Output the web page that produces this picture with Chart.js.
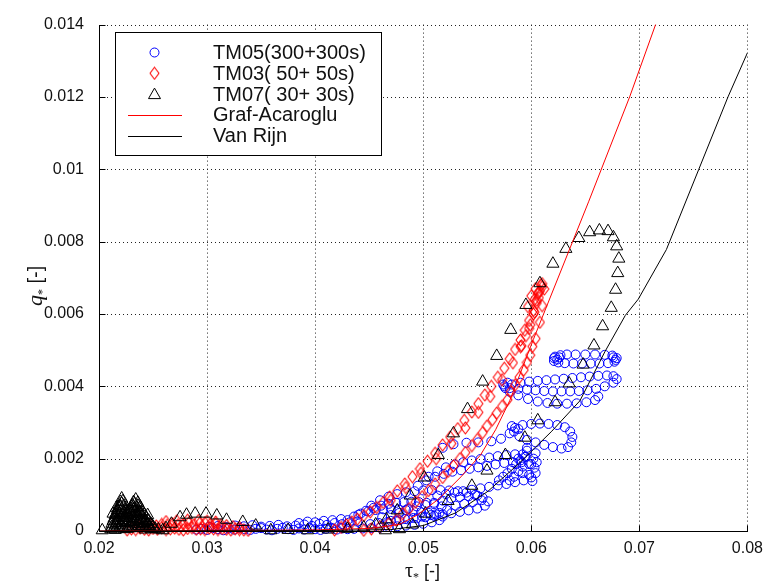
<!DOCTYPE html>
<html>
<head>
<meta charset="utf-8">
<script src="https://cdn.jsdelivr.net/npm/chart.js@4.4.0/dist/chart.umd.min.js"></script>
<style>
  html, body { margin: 0; padding: 0; background: #fff; }
  canvas { display: block; }
</style>
</head>
<body>
<canvas id="chart" width="771" height="585" style="width:771px;height:585px"></canvas>
<script>
// axis ticks
const tauTicks = [0.02, 0.03, 0.04, 0.05, 0.06, 0.07, 0.08];
const qTicks = [0, 0.002, 0.004, 0.006, 0.008, 0.01, 0.012, 0.014];

// TM05 (300+300s) - blue circles
const tm05Tau = [
  0.0290,0.0295,0.0300,0.0305,0.0310,0.0315,0.0320,0.0325,0.0330,0.0335,0.0340,0.0345,0.0350,0.0355,0.0360,0.0365,0.0370,0.0375,0.0380,0.0385,0.0390,0.0395,0.0400,0.0405,0.0410,0.0415,0.0420,0.0425,0.0430,
  0.0302,0.0310,0.0318,0.0326,0.0334,0.0342,0.0350,0.0358,0.0366,0.0374,0.0382,0.0390,0.0397,0.0404,0.0411,0.0418,0.0425,0.0432,0.0439,
  0.0385,0.0393,0.0400,0.0408,0.0416,0.0424,
  0.0430,0.0436,0.0442,0.0449,0.0456,0.0463,0.0470,0.0477,0.0484,0.0491,0.0498,0.0505,0.0512,0.0518,
  0.0515,0.0508,0.0500,0.0492,0.0484,0.0476,0.0468,0.0460,0.0452,0.0444,0.0436,
  0.0440,0.0447,0.0454,0.0461,0.0468,0.0475,0.0482,0.0489,0.0496,0.0503,0.0510,0.0517,
  0.0522,0.0515,0.0507,0.0499,0.0491,0.0483,0.0475,0.0467,0.0459,0.0451,
  0.0462,0.0470,0.0478,0.0486,0.0494,0.0502,0.0510,0.0518,0.0526,0.0534,0.0542,0.0550,0.0530,0.0538,0.0546,0.0554,
  0.0452,0.0460,0.0468,0.0476,0.0484,0.0492,0.0500,0.0508,0.0516,0.0524,0.0532,0.0540,0.0548,0.0555,0.0560,
  0.0557,0.0550,0.0542,0.0534,0.0526,0.0518,0.0510,0.0502,0.0494,0.0486,0.0478,0.0470,
  0.0495,0.0503,0.0511,0.0519,0.0527,0.0535,0.0543,0.0551,0.0559,0.0567,0.0575,0.0583,0.0591,0.0598,0.0603,
  0.0604,0.0600,0.0593,0.0585,0.0577,0.0569,0.0561,0.0553,0.0545,0.0537,0.0529,0.0521,0.0513,
  0.0505,0.0513,0.0521,0.0529,0.0537,0.0545,0.0553,0.0561,0.0569,0.0577,0.0585,0.0592,
  0.0602,0.0604,0.0598,0.0595,0.0600,0.0592,0.0596,0.0588,0.0601,0.0605,
  0.0578,0.0582,0.0586,0.0590,0.0594,0.0580,0.0584,0.0588,0.0592,0.0596,0.0574,0.0570,
  0.0518,0.0528,0.0540,0.0551,0.0563,0.0572,0.0580,0.0585,0.0592,0.0600,0.0608,0.0616,0.0624,0.0631,0.0636,0.0638,0.0637,0.0634,
  0.0628,0.0620,0.0612,0.0604,0.0596,0.0589,0.0584,0.0588,0.0582,
  0.0575,0.0582,0.0590,0.0598,0.0606,0.0614,0.0622,0.0630,0.0638,0.0646,0.0654,0.0662,0.0670,0.0676,0.0679,
  0.0676,0.0668,0.0660,0.0652,0.0644,0.0636,0.0628,0.0620,0.0612,0.0604,0.0596,0.0588,0.0580,
  0.0588,0.0597,0.0606,0.0615,0.0624,0.0633,0.0642,0.0651,0.0659,0.0662,0.0574,0.0576,0.0578,0.0580,
  0.0621,0.0627,0.0633,0.0641,0.0650,0.0659,0.0668,0.0675,0.0679,0.0677,0.0671,0.0663,0.0655,0.0647,0.0639,0.0631,0.0625,0.0621,0.0622,0.0624,0.0626,0.0678,0.0676
];
const tm05Q = [
  0.00004,0.00006,0.00003,0.00008,0.00005,0.00002,0.00007,0.00004,0.00009,0.00005,0.00003,0.00006,0.00008,0.00004,0.00002,0.00006,0.00009,0.00005,0.00003,0.00007,0.00004,0.00008,0.00005,0.00003,0.00006,0.00009,0.00004,0.00007,0.00005,
  0.00012,0.00014,0.00011,0.00015,0.00013,0.00016,0.00012,0.00014,0.00017,0.00013,0.00015,0.00018,0.00014,0.00020,0.00017,0.00022,0.00019,0.00024,0.00026,
  0.00022,0.00026,0.00024,0.00028,0.00030,0.00033,
  0.00030,0.00040,0.00048,0.00054,0.00058,0.00060,0.00061,0.00060,0.00058,0.00055,0.00052,0.00050,0.00046,0.00040,
  0.00030,0.00024,0.00020,0.00017,0.00015,0.00013,0.00011,0.00009,0.00008,0.00007,0.00006,
  0.00045,0.00056,0.00064,0.00070,0.00075,0.00078,0.00080,0.00081,0.00080,0.00078,0.00074,0.00068,
  0.00058,0.00050,0.00044,0.00040,0.00036,0.00033,0.00029,0.00025,0.00022,0.00019,
  0.00038,0.00044,0.00050,0.00062,0.00068,0.00072,0.00078,0.00084,0.00090,0.00094,0.00096,0.00098,0.00070,0.00075,0.00080,0.00085,
  0.00070,0.00085,0.00095,0.00102,0.00107,0.00110,0.00112,0.00113,0.00113,0.00112,0.00110,0.00106,0.00100,0.00092,0.00082,
  0.00070,0.00062,0.00057,0.00053,0.00049,0.00046,0.00042,0.00038,0.00035,0.00032,0.00030,0.00028,
  0.00125,0.00140,0.00150,0.00158,0.00164,0.00168,0.00172,0.00176,0.00180,0.00184,0.00188,0.00190,0.00190,0.00185,0.00175,
  0.00160,0.00148,0.00140,0.00135,0.00130,0.00126,0.00122,0.00118,0.00114,0.00110,0.00106,0.00102,0.00098,
  0.00150,0.00165,0.00176,0.00184,0.00190,0.00195,0.00199,0.00203,0.00207,0.00210,0.00212,0.00212,
  0.00200,0.00215,0.00155,0.00205,0.00185,0.00160,0.00222,0.00200,0.00138,0.00190,
  0.00160,0.00172,0.00185,0.00195,0.00205,0.00140,0.00150,0.00165,0.00178,0.00230,0.00150,0.00140,
  0.00230,0.00240,0.00244,0.00245,0.00248,0.00255,0.00270,0.00285,0.00293,0.00296,0.00297,0.00296,0.00293,0.00287,0.00275,0.00260,0.00245,0.00232,
  0.00228,0.00232,0.00238,0.00245,0.00252,0.00262,0.00275,0.00282,0.00290,
  0.00400,0.00405,0.00410,0.00413,0.00415,0.00417,0.00419,0.00421,0.00423,0.00425,0.00427,0.00429,0.00430,0.00428,0.00420,
  0.00410,0.00400,0.00393,0.00389,0.00387,0.00386,0.00386,0.00386,0.00387,0.00389,0.00391,0.00393,0.00395,
  0.00375,0.00365,0.00358,0.00354,0.00352,0.00352,0.00353,0.00356,0.00362,0.00372,0.00405,0.00395,0.00410,0.00385,
  0.00478,0.00486,0.00488,0.00488,0.00488,0.00488,0.00487,0.00485,0.00478,0.00468,0.00464,0.00463,0.00463,0.00463,0.00463,0.00464,0.00466,0.00470,0.00482,0.00474,0.00480,0.00473,0.00480
];

// TM03 (50+50s) - red diamonds
const tm03Tau = [
  0.0226,0.0230,0.0234,0.0238,0.0242,0.0246,0.0250,0.0254,0.0258,0.0262,0.0266,0.0270,0.0274,0.0278,0.0282,0.0286,0.0290,0.0294,0.0298,0.0302,0.0306,0.0310,0.0314,0.0318,0.0322,0.0326,0.0330,0.0334,0.0338,
  0.0238,0.0243,0.0248,0.0253,0.0258,0.0263,0.0268,0.0273,0.0278,0.0283,0.0288,0.0293,0.0298,0.0303,0.0308,0.0313,0.0318,0.0324,0.0330,
  0.0262,0.0272,0.0282,0.0292,0.0300,0.0308,
  0.0418,0.0424,0.0429,0.0434,0.0439,0.0445,0.0451,0.0457,0.0463,0.0469,0.0476,0.0483,0.0490,0.0497,0.0504,0.0511,0.0518,0.0525,0.0532,0.0538,0.0545,0.0551,0.0557,0.0563,0.0569,0.0575,0.0580,0.0585,0.0590,0.0594,0.0598,0.0602,0.0605,0.0608,0.0610,
  0.0470,0.0484,0.0498,0.0512,0.0526,0.0539,0.0551,0.0562,0.0573,0.0583,0.0591,0.0598,0.0603,0.0607,0.0610,
  0.0445,0.0452,0.0460,0.0468,0.0481,0.0493,0.0505,0.0518,0.0528,0.0539,0.0550,0.0559,0.0568,0.0578,0.0585,0.0593,0.0599,0.0604,0.0608,0.0610,0.0612,
  0.0475,0.0487,0.0499,0.0511,0.0523,0.0534,0.0545,0.0555,0.0564,0.0573,0.0581,0.0589,0.0596,0.0601,
  0.0590,0.0595,0.0599,0.0602,0.0605,0.0607,0.0609,0.0604,0.0600,0.0597,0.0603,0.0606
];
const tm03Q = [
  0.00003,0.00006,0.00004,0.00008,0.00005,0.00003,0.00007,0.00005,0.00009,0.00004,0.00006,0.00008,0.00005,0.00003,0.00007,0.00009,0.00005,0.00006,0.00004,0.00008,0.00006,0.00004,0.00007,0.00005,0.00003,0.00006,0.00004,0.00003,0.00002,
  0.00012,0.00015,0.00017,0.00014,0.00018,0.00016,0.00020,0.00017,0.00019,0.00022,0.00018,0.00021,0.00023,0.00019,0.00020,0.00017,0.00015,0.00012,0.00010,
  0.00026,0.00028,0.00030,0.00029,0.00027,0.00025,
  0.00003,0.00010,0.00017,0.00025,0.00033,0.00043,0.00053,0.00065,0.00079,0.00094,0.00111,0.00130,0.00150,0.00172,0.00193,0.00215,0.00238,0.00260,0.00283,0.00306,0.00329,0.00352,0.00376,0.00400,0.00425,0.00450,0.00476,0.00502,0.00528,0.00555,0.00582,0.00610,0.00638,0.00664,0.00684,
  0.00085,0.00120,0.00160,0.00200,0.00242,0.00285,0.00328,0.00372,0.00418,0.00465,0.00512,0.00560,0.00605,0.00645,0.00675,
  0.00002,0.00006,0.00012,0.00020,0.00048,0.00080,0.00112,0.00148,0.00180,0.00217,0.00253,0.00290,0.00326,0.00363,0.00404,0.00445,0.00486,0.00532,0.00577,0.00623,0.00669,
  0.00030,0.00062,0.00095,0.00130,0.00165,0.00200,0.00236,0.00272,0.00308,0.00345,0.00385,0.00425,0.00466,0.00510,
  0.00510,0.00540,0.00570,0.00600,0.00630,0.00660,0.00680,0.00670,0.00650,0.00620,0.00640,0.00655
];

// TM07 (30+30s) - black triangles
const tm07Tau = [
  0.0203,0.0211,0.0212,0.0214,0.0216,0.0218,0.0220,0.0221,0.0222,0.0223,0.0224,0.0226,0.0228,0.0230,0.0232,0.0234,0.0236,0.0238,0.0240,0.0242,0.0244,0.0246,0.0248,0.0250,
  0.0214,0.0216,0.0218,0.0220,0.0222,0.0222,0.0224,0.0225,0.0226,0.0228,0.0229,0.0230,0.0232,0.0232,0.0233,0.0234,0.0235,0.0236,0.0237,0.0238,0.0239,0.0240,0.0241,0.0243,0.0244,0.0246,0.0248,0.0219,0.0233,0.0217,0.0227,0.0252,0.0255,
  0.0213,0.0215,0.0217,0.0219,0.0221,0.0223,0.0225,0.0227,0.0229,0.0231,0.0233,0.0235,0.0237,0.0239,0.0241,0.0243,0.0245,0.0247,0.0215,0.0219,0.0221,0.0223,0.0231,0.0233,0.0235,0.0237,0.0243,0.0220,0.0234,0.0228,
  0.0212,0.0213,0.0215,0.0216,0.0217,0.0218,0.0219,0.0220,0.0221,0.0222,0.0223,0.0224,0.0225,0.0229,0.0230,0.0231,0.0232,0.0233,0.0234,0.0235,0.0236,0.0238,0.0240,0.0242,0.0245,
  0.0259,0.0262,0.0267,0.0275,0.0281,0.0289,0.0299,0.0309,0.0318,0.0333,0.0345,0.0359,0.0375,0.0393,0.0412,0.0430,0.0445,0.0456,0.0466,
  0.0476,0.0488,0.0501,0.0514,0.0528,0.0541,0.0555,0.0568,0.0581,0.0595,0.0608,0.0620,0.0632,0.0644,0.0654,0.0663,0.0671,0.0676,0.0679,0.0681,0.0680,0.0678,0.0674,0.0666,0.0658,0.0648,0.0635,0.0622,0.0606,0.0594,0.0576,0.0559,0.0545,0.0523,0.0502,
  0.0490,0.0478,0.0465
];
const tm07Q = [
  0.00002,0.00005,0.00020,0.00035,0.00050,0.00065,0.00080,0.00090,0.00082,0.00070,0.00058,0.00052,0.00056,0.00068,0.00080,0.00087,0.00078,0.00066,0.00055,0.00045,0.00036,0.00028,0.00020,0.00012,
  0.00008,0.00022,0.00040,0.00055,0.00030,0.00012,0.00040,0.00022,0.00006,0.00035,0.00015,0.00048,0.00060,0.00025,0.00008,0.00042,0.00065,0.00020,0.00050,0.00034,0.00010,0.00040,0.00022,0.00012,0.00025,0.00010,0.00006,0.00070,0.00074,0.00012,0.00025,0.00006,0.00004,
  0.00028,0.00044,0.00058,0.00024,0.00060,0.00050,0.00036,0.00044,0.00052,0.00036,0.00052,0.00034,0.00028,0.00048,0.00032,0.00030,0.00018,0.00014,0.00003,0.00008,0.00018,0.00005,0.00012,0.00020,0.00008,0.00014,0.00004,0.00038,0.00030,0.00008,
  0.00012,0.00048,0.00016,0.00064,0.00030,0.00052,0.00046,0.00068,0.00076,0.00048,0.00036,0.00028,0.00046,0.00060,0.00026,0.00070,0.00040,0.00064,0.00056,0.00046,0.00070,0.00052,0.00028,0.00022,0.00044,
  0.00002,0.00008,0.00020,0.00038,0.00045,0.00048,0.00048,0.00043,0.00031,0.00025,0.00015,0.00002,0.00003,0.00002,0.00004,0.00006,0.00010,0.00018,0.00032,
  0.00057,0.00098,0.00148,0.00210,0.00270,0.00337,0.00413,0.00484,0.00556,0.00625,0.00685,0.00739,0.00780,0.00810,0.00826,0.00831,0.00829,0.00812,0.00787,0.00753,0.00713,0.00667,0.00617,0.00566,0.00513,0.00460,0.00408,0.00356,0.00306,0.00258,0.00210,0.00167,0.00125,0.00083,0.00048,
  0.00018,0.00005,0.00002
];

// Graf-Acaroglu formula (red line)
const grafTau = [0.0200,0.0300,0.0400,0.0450,0.0478,0.0495,0.0515,0.0535,0.0553,0.0567,0.0580,0.0602,0.0653,0.0691,0.0715,0.0720];
const grafQ   = [0.00000,0.00001,0.00003,0.00007,0.00018,0.00045,0.00090,0.00150,0.00210,0.00280,0.00360,0.00530,0.00910,0.01200,0.01400,0.01440];

// Van Rijn formula (black line)
const vanRijnTau = [0.0200,0.0400,0.0470,0.0500,0.0530,0.0560,0.0588,0.0619,0.0645,0.0668,0.0687,0.0699,0.0725,0.0755,0.0782,0.0800];
const vanRijnQ   = [0.00000,0.00001,0.00004,0.00015,0.00050,0.00110,0.00185,0.00276,0.00360,0.00495,0.00596,0.00641,0.00778,0.01000,0.01200,0.01322];

const zip = (xs, ys) => xs.map((x, i) => ({ x: x, y: ys[i] }));

// elongated diamond marker like matlab 'd'
function diamondMarker(w, h, color) {
  const c = document.createElement('canvas');
  c.width = w + 2; c.height = h + 2;
  const g = c.getContext('2d');
  g.strokeStyle = color;
  g.lineWidth = 1.1;
  g.lineJoin = 'round';
  g.beginPath();
  g.moveTo(c.width / 2, 1);
  g.lineTo(c.width - 1, c.height / 2);
  g.lineTo(c.width / 2, c.height - 1);
  g.lineTo(1, c.height / 2);
  g.closePath();
  g.stroke();
  return c;
}
const diamond = diamondMarker(9, 12, '#ff0000');

const fmt = v => { const s = +(+v).toFixed(4); return s === 0 ? '0' : String(s); };

const axisFont = { family: '"Liberation Sans", Arial, sans-serif', size: 16 };

const frame = {
  id: 'frame',
  beforeDatasetsDraw(chart) {
    const { ctx, chartArea: a, scales: { x, y } } = chart;
    ctx.save();
    ctx.strokeStyle = '#222';
    ctx.lineWidth = 1;
    ctx.setLineDash([1, 3]);
    tauTicks.forEach(t => {
      if (t === tauTicks[0]) return;
      const px = Math.round(x.getPixelForValue(t)) + 0.5;
      ctx.beginPath(); ctx.moveTo(px, a.top); ctx.lineTo(px, a.bottom); ctx.stroke();
    });
    qTicks.forEach(t => {
      if (t === 0) return;
      const py = Math.round(y.getPixelForValue(t)) + 0.5;
      ctx.beginPath(); ctx.moveTo(a.left, py); ctx.lineTo(a.right, py); ctx.stroke();
    });
    ctx.restore();
  },
  afterDatasetsDraw(chart) {
    const { ctx, chartArea: a, scales: { x, y } } = chart;
    ctx.save();
    ctx.strokeStyle = '#000';
    ctx.lineWidth = 1;
    const L = Math.round(a.left) + 0.5, B = Math.round(a.bottom) + 0.5;
    ctx.beginPath();
    ctx.moveTo(L, Math.round(a.top)); ctx.lineTo(L, B); ctx.lineTo(Math.round(a.right) + 1, B);
    // inward ticks
    tauTicks.forEach(t => {
      const px = Math.round(x.getPixelForValue(t)) + 0.5;
      ctx.moveTo(px, B); ctx.lineTo(px, B - 6);
    });
    qTicks.forEach(t => {
      const py = Math.round(y.getPixelForValue(t)) + 0.5;
      ctx.moveTo(L, py); ctx.lineTo(L + 6, py);
    });
    ctx.stroke();
    ctx.restore();
  },
  afterDraw(chart) {
    const { ctx } = chart;
    ctx.save();
    // legend box
    const bx = 115.5, by = 32.5, bw = 266, bh = 123;
    ctx.fillStyle = '#fff';
    ctx.fillRect(bx, by, bw, bh);
    ctx.strokeStyle = '#000';
    ctx.lineWidth = 1;
    ctx.strokeRect(bx, by, bw, bh);
    const rows = [52.5, 73.3, 94.1, 114.9, 135.7];
    const mx = 154.5;
    // circle
    ctx.strokeStyle = '#0000ff';
    ctx.beginPath(); ctx.arc(mx, rows[0], 4.5, 0, Math.PI * 2); ctx.stroke();
    // diamond
    ctx.drawImage(diamond, mx - diamond.width / 2, rows[1] - diamond.height / 2);
    // triangle
    ctx.strokeStyle = '#000';
    ctx.beginPath();
    ctx.moveTo(mx, rows[2] - 6); ctx.lineTo(mx + 6, rows[2] + 4.5); ctx.lineTo(mx - 6, rows[2] + 4.5); ctx.closePath();
    ctx.stroke();
    // lines
    ctx.strokeStyle = 'rgb(255,0,0)';
    ctx.beginPath(); ctx.moveTo(128, Math.round(rows[3]) + 0.5); ctx.lineTo(182, Math.round(rows[3]) + 0.5); ctx.stroke();
    ctx.strokeStyle = '#000';
    ctx.beginPath(); ctx.moveTo(128, Math.round(rows[4]) + 0.5); ctx.lineTo(182, Math.round(rows[4]) + 0.5); ctx.stroke();
    ctx.fillStyle = '#111';
    ctx.font = '20px "Liberation Sans", Arial, sans-serif';
    ctx.textBaseline = 'middle';
    ctx.textAlign = 'left';
    ['TM05(300+300s)', 'TM03( 50+ 50s)', 'TM07( 30+ 30s)', 'Graf-Acaroglu', 'Van Rijn'].forEach((s, i) => {
      ctx.fillText(s, 213, rows[i] + 1);
    });

    // axis titles
    ctx.fillStyle = '#111';
    ctx.textBaseline = 'alphabetic';
    // x: tau_* [-]
    let x0 = 405, yb = 577;
    ctx.font = '20px "Liberation Serif", "Times New Roman", serif';
    ctx.fillText('\u03c4', x0, yb);
    let w = ctx.measureText('\u03c4').width;
    ctx.font = '12px "Liberation Serif", serif';
    ctx.fillText('*', x0 + w, yb + 4);
    w += ctx.measureText('*').width;
    ctx.font = '18px "Liberation Sans", Arial, sans-serif';
    ctx.fillText(' [-]', x0 + w, yb);
    // y: q_* [-]
    ctx.translate(42, 306);
    ctx.rotate(-Math.PI / 2);
    ctx.font = 'italic 22px "Liberation Serif", "Times New Roman", serif';
    ctx.fillText('q', 0, 0);
    w = ctx.measureText('q').width;
    ctx.font = '12px "Liberation Serif", serif';
    ctx.fillText('*', w, 4);
    w += ctx.measureText('*').width;
    ctx.font = '20px "Liberation Sans", Arial, sans-serif';
    ctx.fillText(' [-]', w, 0);
    ctx.restore();
  }
};

const ctx = document.getElementById('chart');
new Chart(ctx, {
  type: 'scatter',
  data: {
    datasets: [{
      label: 'TM05(300+300s)',
      data: zip(tm05Tau, tm05Q),
      pointStyle: 'circle',
      pointRadius: 4.5,
      borderColor: '#0000ff',
      backgroundColor: 'rgba(0,0,0,0)',
      borderWidth: 1,
      clip: false,
      order: 5
    }, {
      label: 'TM03( 50+ 50s)',
      data: zip(tm03Tau, tm03Q),
      pointStyle: diamond,
      pointRadius: 5,
      borderColor: '#ff0000',
      backgroundColor: 'rgba(0,0,0,0)',
      clip: false,
      order: 4
    }, {
      label: 'TM07( 30+ 30s)',
      data: zip(tm07Tau, tm07Q),
      pointStyle: 'triangle',
      pointRadius: 7,
      borderColor: '#000',
      backgroundColor: 'rgba(0,0,0,0)',
      borderWidth: 1,
      clip: false,
      order: 3
    }, {
      label: 'Graf-Acaroglu',
      data: zip(grafTau, grafQ),
      showLine: true,
      pointRadius: 0,
      borderColor: '#ff0000',
      borderWidth: 1,
      order: 2
    }, {
      label: 'Van Rijn',
      data: zip(vanRijnTau, vanRijnQ),
      showLine: true,
      pointRadius: 0,
      borderColor: '#000',
      borderWidth: 1,
      order: 1
    }]
  },
  options: {
    responsive: false,
    animation: false,
    devicePixelRatio: 1,
    layout: { padding: { left: 0, right: 22, top: 20, bottom: 0 } },
    plugins: { legend: { display: false }, tooltip: { enabled: false } },
    scales: {
      x: {
        type: 'linear',
        min: 0.02, max: 0.08,
        afterBuildTicks: s => { s.ticks = tauTicks.map(v => ({ value: v })); },
        afterFit: s => { s.height = 54; },
        grid: { display: false, drawTicks: false },
        border: { display: false },
        ticks: { font: axisFont, color: '#111', padding: 8, maxRotation: 0, callback: fmt }
      },
      y: {
        type: 'linear',
        min: 0, max: 0.014,
        afterBuildTicks: s => { s.ticks = qTicks.map(v => ({ value: v })); },
        afterFit: s => { s.width = 99; },
        grid: { display: false, drawTicks: false },
        border: { display: false },
        ticks: { font: axisFont, color: '#111', padding: 15, callback: fmt }
      }
    }
  },
  plugins: [frame]
});
</script>
</body>
</html>
